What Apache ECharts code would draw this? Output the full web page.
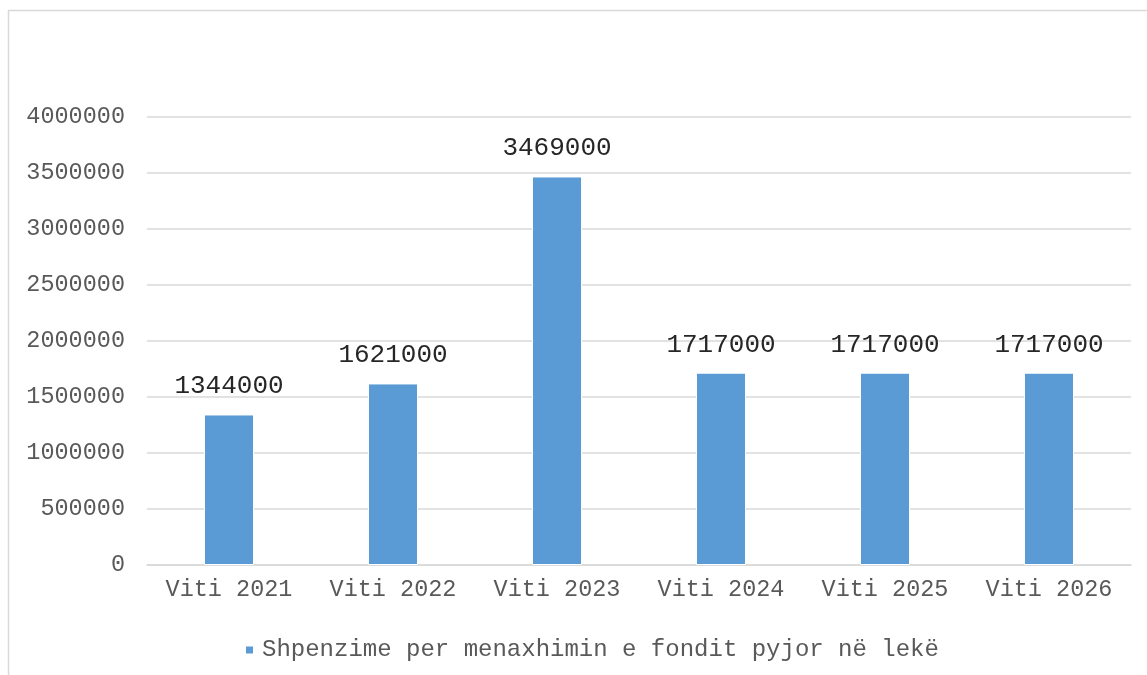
<!DOCTYPE html>
<html>
<head>
<meta charset="utf-8">
<script src="https://cdn.jsdelivr.net/npm/echarts@6/dist/echarts.min.js"></script>
<style>
  html, body { margin: 0; padding: 0; background: #fff; }
  #chart { width: 1147px; height: 675px; }
</style>
</head>
<body>
<div id="chart"></div>
<script>
// kategorite dhe vlerat
const categories = ['Viti 2021', 'Viti 2022', 'Viti 2023', 'Viti 2024', 'Viti 2025', 'Viti 2026'];
const values = [1344000, 1621000, 3469000, 1717000, 1717000, 1717000];
const seriesName = 'Shpenzime per menaxhimin e fondit pyjor në lekë';
const yTicks = { min: 0, max: 4000000, interval: 500000 };

const mono = '"Liberation Mono", "DejaVu Sans Mono", monospace';

const chart = echarts.init(document.getElementById('chart'));

const option = {
  animation: false,
  graphic: [
    {
      type: 'rect',
      shape: { x: 8.5, y: 10.5, width: 1200, height: 700 },
      style: { fill: 'none', stroke: '#d9d9d9', lineWidth: 1.5 },
      silent: true
    }
  ],
  grid: { left: 147, right: 16, top: 117, bottom: 110, outerBoundsMode: 'none', containLabel: false },
  legend: {
    data: [seriesName],
    left: 239,
    top: 633,
    icon: 'rect',
    itemWidth: 9,
    itemHeight: 9,
    itemGap: 8,
    textStyle: { fontFamily: mono, fontSize: 24, color: '#595959', padding: [0, 0, 0, 3] }
  },
  xAxis: {
    type: 'category',
    data: categories,
    axisLine: { lineStyle: { color: '#d9d9d9', width: 1.5 } },
    axisTick: { show: false },
    axisLabel: { interval: 0, fontFamily: mono, fontSize: 23.5, color: '#595959', margin: 13 }
  },
  yAxis: {
    type: 'value',
    min: yTicks.min,
    max: yTicks.max,
    interval: yTicks.interval,
    axisLine: { show: false },
    axisTick: { show: false },
    splitLine: { lineStyle: { color: '#d9d9d9', width: 1.5 } },
    axisLabel: {
      fontFamily: mono, fontSize: 23.5, color: '#595959', margin: 22,
      formatter: v => String(v)
    }
  },
  series: [
    {
      name: seriesName,
      type: 'bar',
      data: values,
      barWidth: 50,
      itemStyle: { color: '#5b9bd5', borderColor: '#ffffff', borderWidth: 1 },
      label: {
        show: true,
        position: 'top',
        distance: 15,
        fontFamily: mono,
        fontSize: 26,
        color: '#262626'
      }
    }
  ]
};

chart.setOption(option);
</script>
</body>
</html>
